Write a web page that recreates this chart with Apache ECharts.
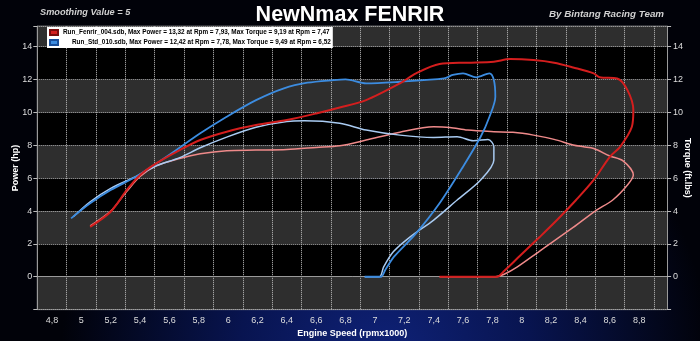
<!DOCTYPE html>
<html>
<head>
<meta charset="utf-8">
<script src="https://cdn.jsdelivr.net/npm/echarts@6/dist/echarts.min.js"></script>
<style>html,body{margin:0;padding:0;background:#000;}#c{width:700px;height:341px;}</style>
</head>
<body>
<div id="c"></div>
<script>
// ---- data (rpm x1000, value) ----
const fenrirName = 'Run_Fenrir_004.sdb, Max Power = 13,32 at Rpm = 7,93, Max Torque = 9,19 at Rpm = 7,47';
const stdName = 'Run_Std_010.sdb, Max Power = 12,42 at Rpm = 7,78, Max Torque = 9,49 at Rpm = 6,52';

const fenrirPowerRpm = [5.06,5.20,5.31,5.40,5.51,5.67,5.81,5.99,6.19,6.40,6.60,6.76,6.94,7.17,7.28,7.44,7.63,7.81,7.92,8.08,8.22,8.35,8.49,8.53,8.65,8.72,8.76,8.75,8.67,8.60,8.49,8.37,8.24,8.12,7.97,7.88,7.83,7.60,7.44];
const fenrirPowerHp  = [3.04,3.96,5.28,6.19,6.90,7.71,8.32,8.83,9.23,9.54,9.94,10.30,10.75,11.77,12.38,12.95,13.03,13.09,13.25,13.19,13.03,12.74,12.38,12.14,12.07,11.36,10.15,9.13,7.91,7.30,5.89,4.67,3.45,2.40,1.12,0.35,0.0,0.0,0.0];

const fenrirTorqueRpm = [5.06,5.20,5.31,5.40,5.51,5.67,5.81,5.99,6.19,6.40,6.60,6.76,6.94,7.17,7.40,7.51,7.63,7.81,7.94,8.08,8.22,8.35,8.42,8.49,8.60,8.69,8.76,8.72,8.62,8.50,8.35,8.12,7.97,7.88,7.82,7.60,7.44];
const fenrirTorqueFt  = [3.10,4.00,5.20,6.10,6.75,7.20,7.48,7.67,7.71,7.75,7.87,7.97,8.32,8.80,9.13,9.09,8.93,8.83,8.79,8.62,8.36,8.02,7.91,7.81,7.35,7.05,6.19,5.58,4.67,4.00,3.00,1.55,0.60,0.15,0.0,0.0,0.0];

const stdPowerRpm = [4.93,5.06,5.20,5.38,5.58,5.81,5.99,6.19,6.38,6.54,6.72,6.80,6.94,7.17,7.47,7.53,7.60,7.69,7.78,7.81,7.82,7.78,7.72,7.60,7.44,7.28,7.13,7.07,7.04,6.93];
const stdPowerHp  = [3.55,4.47,5.28,6.13,7.30,8.73,9.74,10.75,11.47,11.81,11.97,12.01,11.77,11.87,12.07,12.28,12.38,12.14,12.38,11.97,10.96,9.74,8.52,6.70,4.47,2.64,1.22,0.41,0.0,0.0];

const stdTorqueRpm = [4.945,5.06,5.20,5.38,5.51,5.67,5.81,5.99,6.19,6.40,6.52,6.76,6.94,7.17,7.40,7.56,7.67,7.77,7.81,7.81,7.72,7.56,7.40,7.24,7.125,7.06,7.03,6.93];
const stdTorqueFt  = [3.65,4.56,5.38,6.13,6.75,7.25,7.85,8.50,9.10,9.45,9.49,9.34,8.93,8.62,8.48,8.52,8.28,8.36,7.91,7.10,5.89,4.67,3.45,2.43,1.52,0.61,0.0,0.0];

const yTicks = [-2,0,2,4,6,8,10,12,14];

function zip(a, b) { return a.map((v, i) => [v, b[i]]); }

const chart = echarts.init(document.getElementById('c'), null, {renderer: 'canvas'});
const FONT = 'Liberation Sans';
const labelY = {
  color: '#dddddd', fontSize: 9, fontFamily: FONT,
  formatter: v => (v >= 0 && v <= 14 && yTicks.indexOf(v) >= 0) ? String(v) : ''
};
const yCommon = {
  type: 'value', min: -2, max: 15.25, interval: 2,
  axisLine: {show: true, lineStyle: {color: '#9a9a9a'}},
  axisTick: {show: true, length: 4, lineStyle: {color: '#bbbbbb'}},
  nameLocation: 'middle', nameMoveOverlap: false,
  nameTextStyle: {color: '#ffffff', fontSize: 9, fontWeight: 'bold', fontFamily: FONT}
};

chart.setOption({
  backgroundColor: {
    type: 'radial', x: 0.55, y: 1.05, r: 0.95,
    colorStops: [{offset: 0, color: '#0f2278'}, {offset: 0.45, color: '#081450'}, {offset: 1, color: '#010209'}]
  },
  animation: false,
  title: [
    {text: 'NewNmax FENRIR', left: 'center', top: 4, padding: 0,
     textStyle: {color: '#ffffff', fontSize: 21.5, fontWeight: 'bold', fontFamily: FONT,
                 textShadowColor: 'rgba(0,0,0,0.8)', textShadowBlur: 3, textShadowOffsetX: 1, textShadowOffsetY: 1}},
    {text: 'Smoothing Value = 5', left: 40, top: 8, padding: 0,
     textStyle: {color: '#d0d0d0', fontSize: 9.2, fontWeight: 'bold', fontStyle: 'italic', fontFamily: FONT}},
    {text: 'By Bintang Racing Team', left: 549, top: 9, padding: 0,
     textStyle: {color: '#d0d0d0', fontSize: 9.8, fontWeight: 'bold', fontStyle: 'italic', fontFamily: FONT}}
  ],
  legend: {
    data: [fenrirName, stdName],
    orient: 'vertical', left: 47, top: 27,
    backgroundColor: '#ffffff', padding: [2, 2, 2, 2], itemGap: 3,
    itemWidth: 8, itemHeight: 5, icon: 'rect',
    formatter: n => n === stdName ? '{b|' + n + '}' : '{a|' + n + '}',
    textStyle: {color: '#000000', fontSize: 6.4, fontWeight: 'bold', fontFamily: FONT,
                rich: {a: {fontSize: 6.4, fontWeight: 'bold', color: '#000', fontFamily: FONT},
                       b: {fontSize: 6.4, fontWeight: 'bold', color: '#000', fontFamily: FONT, padding: [0, 0, 0, 9]}}}
  },
  grid: {left: 37.3, top: 26.2, right: 32.9, bottom: 31.4, show: true, outerBoundsMode: 'none',
         backgroundColor: 'transparent', borderColor: '#9a9a9a', borderWidth: 1},
  xAxis: {
    type: 'value', min: 4.7, max: 8.99, interval: 0.1,
    name: 'Engine Speed (rpmx1000)', nameLocation: 'middle', nameGap: 17,
    nameTextStyle: {color: '#ffffff', fontSize: 9, fontWeight: 'bold', fontFamily: FONT},
    axisLine: {show: true, lineStyle: {color: '#9a9a9a'}},
    axisTick: {show: false},
    axisLabel: {color: '#dddddd', fontSize: 9, fontFamily: FONT, margin: 6,
      formatter: v => {
        const k = Math.round(v * 10);
        if (Math.abs(v * 10 - k) > 1e-6 || k % 2 !== 0 || k < 48 || k > 88) return '';
        return String(k / 10).replace('.', ',');
      }},
    splitLine: {show: true, showMinLine: true, showMaxLine: true,
      lineStyle: {color: ['#bdbdbd', 'rgba(0,0,0,0)'], type: [1, 1], width: 1}}
  },
  yAxis: [
    Object.assign({}, yCommon, {
      position: 'left', name: 'Power (hp)', nameGap: 17,
      axisLabel: Object.assign({}, labelY, {margin: 5}),
      splitLine: {show: true, lineStyle: {color: '#bdbdbd', type: [1, 1], width: 1}},
      splitArea: {show: true, areaStyle: {color: ['#2e2e2e', '#000000']}}
    }),
    Object.assign({}, yCommon, {
      position: 'right', name: 'Torque (ft.lbs)', nameGap: 16, nameRotate: -90,
      axisLabel: Object.assign({}, labelY, {margin: 6}),
      splitLine: {show: false}, splitArea: {show: false}
    })
  ],
  series: [
    {name: fenrirName + ' torque', type: 'line', yAxisIndex: 1, data: zip(fenrirTorqueRpm, fenrirTorqueFt),
     showSymbol: false, smooth: 0.3, lineStyle: {color: '#ef8a8a', width: 1.5}, z: 3},
    {name: stdName + ' torque', type: 'line', yAxisIndex: 1, data: zip(stdTorqueRpm, stdTorqueFt),
     showSymbol: false, smooth: 0.3, lineStyle: {color: '#a9cbf2', width: 1.5}, z: 3},
    {name: stdName, type: 'line', yAxisIndex: 0, data: zip(stdPowerRpm, stdPowerHp),
     showSymbol: false, smooth: 0.3, itemStyle: {color: '#3c8ce0', borderColor: '#1a4f9a', borderWidth: 1},
     lineStyle: {color: '#3c8ce0', width: 1.8}, z: 4},
    {name: fenrirName, type: 'line', yAxisIndex: 0, data: zip(fenrirPowerRpm, fenrirPowerHp),
     showSymbol: false, smooth: 0.3, itemStyle: {color: '#d41e1e', borderColor: '#7a0d0d', borderWidth: 1},
     lineStyle: {color: '#d41e1e', width: 2}, z: 4}
  ]
});
</script>
</body>
</html>
